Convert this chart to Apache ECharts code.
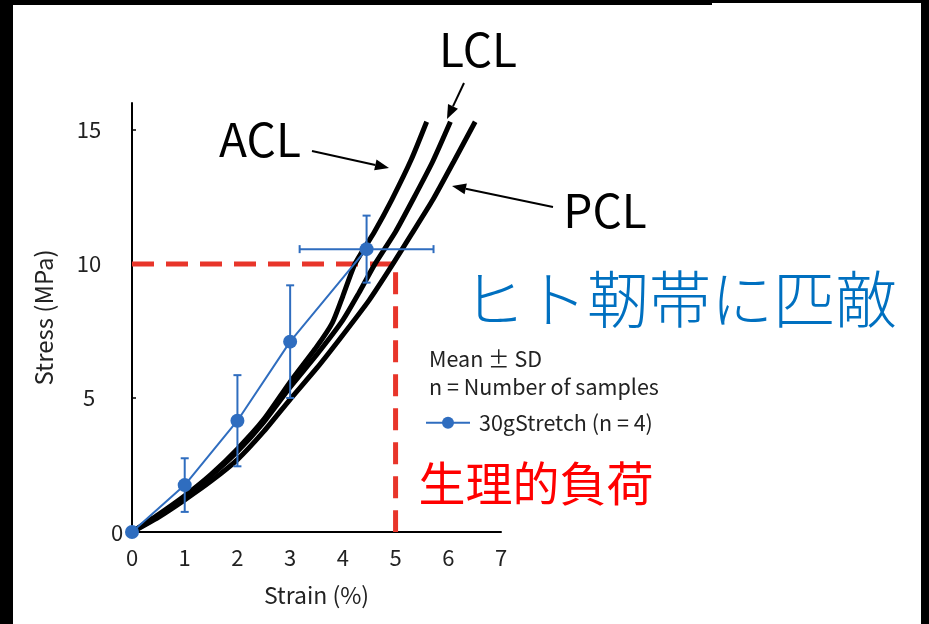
<!DOCTYPE html>
<html><head><meta charset="utf-8">
<script src="https://cdn.jsdelivr.net/npm/echarts@6/dist/echarts.min.js"></script>
<style>html,body{margin:0;padding:0;background:#fff;}#c{width:929px;height:624px;}</style>
</head><body><div id="c"></div>
<script>
// ---- data ----
const yLabelValues = [5, 10, 15];
const aclStrain = [0, 0.5, 1, 1.5, 2, 2.5, 3, 3.5, 3.8, 4.0, 4.23, 4.6, 4.93, 5.3, 5.59];
const aclStress = [0, 0.65, 1.35, 2.15, 3.1, 4.2, 5.6, 6.9, 7.8, 8.8, 10.0, 11.2, 12.4, 13.9, 15.3];
const lclStrain = [0, 0.5, 1, 1.5, 2, 2.5, 3, 3.5, 4, 4.3, 4.61, 5.0, 5.33, 5.7, 6.04];
const lclStress = [0, 0.6, 1.3, 2.1, 3.0, 4.1, 5.4, 6.6, 7.9, 8.9, 10.0, 11.2, 12.4, 13.8, 15.3];
const pclStrain = [0, 0.5, 1, 1.5, 2, 2.5, 3, 3.5, 4, 4.5, 4.95, 5.3, 5.71, 6.1, 6.51];
const pclStress = [0, 0.55, 1.2, 1.9, 2.7, 3.75, 4.95, 6.1, 7.35, 8.65, 10.0, 11.1, 12.4, 13.8, 15.3];
const blueStrain = [0, 1, 2, 3, 4.45];
const blueStress = [0, 1.75, 4.15, 7.1, 10.55];
const blueStressSD = [0, 1.0, 1.7, 2.1, 1.25];
const blueStrainSD = [0, 0, 0, 0, 1.27];
const refStrain = [0, 5, 5];
const refStress = [10, 10, 0];
const seriesName = '30gStretch (n = 4)';

const FONT = '"Noto Sans CJK JP", "Noto Sans", sans-serif';
const BLUE = '#2F6DBF';
const zip = (a, b) => a.map((v, i) => [v, b[i]]);

const chart = echarts.init(document.getElementById('c'), null, {renderer: 'canvas'});

function arrow(x1, y1, x2, y2) {
  const ang = Math.atan2(y2 - y1, x2 - x1);
  const L = 14, W = 5.5;
  const bx = x2 - L * Math.cos(ang), by = y2 - L * Math.sin(ang);
  const px = -Math.sin(ang) * W, py = Math.cos(ang) * W;
  return [
    {type: 'line', shape: {x1, y1, x2: bx, y2: by}, style: {stroke: '#000', lineWidth: 2}, z: 50},
    {type: 'polygon', shape: {points: [[x2, y2], [bx + px, by + py], [bx - px, by - py]]}, style: {fill: '#000'}, z: 50}
  ];
}

const option = {
  animation: false,
  backgroundColor: '#fff',
  grid: {left: 132, right: 428, top: 103, bottom: 92},
  xAxis: {
    type: 'value', min: 0, max: 7, interval: 1,
    name: 'Strain (%)', nameLocation: 'middle', nameGap: 52,
    nameTextStyle: {fontSize: 23, color: '#222', fontFamily: FONT},
    axisLine: {lineStyle: {color: '#000', width: 2}},
    axisTick: {show: false},
    splitLine: {show: false},
    axisLabel: {fontSize: 22, color: '#222', fontFamily: FONT, margin: 15}
  },
  yAxis: {
    type: 'value', min: 0, max: 16, interval: 5,
    name: 'Stress (MPa)', nameLocation: 'middle', nameGap: 76,
    nameTextStyle: {fontSize: 24, color: '#222', fontFamily: FONT},
    axisLine: {show: true, lineStyle: {color: '#000', width: 2}},
    axisTick: {show: true, inside: true, length: 4, lineStyle: {color: '#000', width: 1.5}, customValues: yLabelValues},
    splitLine: {show: false},
    axisLabel: {fontSize: 22, color: '#222', fontFamily: FONT, align: 'center', margin: 43, customValues: yLabelValues}
  },
  legend: {
    data: [seriesName], left: 420, top: 407,
    itemWidth: 44, itemHeight: 15,
    textStyle: {fontSize: 21.5, color: '#222', fontFamily: FONT, padding: [0, 0, 0, 4]}
  },
  series: [
    {type: 'line', name: 'ref', data: zip(refStrain, refStress), symbol: 'none',
     lineStyle: {color: '#E8352A', width: 5, type: [22, 12]}, z: 1, silent: true},
    {type: 'line', name: 'ACL', data: zip(aclStrain, aclStress), symbol: 'none', smooth: 0.2,
     lineStyle: {color: '#000', width: 5}, z: 2},
    {type: 'line', name: 'LCL', data: zip(lclStrain, lclStress), symbol: 'none', smooth: 0.2,
     lineStyle: {color: '#000', width: 5}, z: 2},
    {type: 'line', name: 'PCL', data: zip(pclStrain, pclStress), symbol: 'none', smooth: 0.2,
     lineStyle: {color: '#000', width: 5}, z: 2},
    {type: 'custom', name: 'err', z: 3,
     data: blueStrain.map((x, i) => [x, blueStress[i], blueStressSD[i], blueStrainSD[i]]),
     renderItem: function (params, api) {
       const x = api.value(0), y = api.value(1), sy = api.value(2), sx = api.value(3);
       const ch = [];
       const st = {stroke: BLUE, lineWidth: 2};
       if (sy > 0) {
         const t = api.coord([x, y + sy]), b = api.coord([x, y - sy]);
         ch.push({type: 'line', shape: {x1: t[0], y1: t[1], x2: b[0], y2: b[1]}, style: st});
         ch.push({type: 'line', shape: {x1: t[0] - 4, y1: t[1], x2: t[0] + 4, y2: t[1]}, style: st});
         ch.push({type: 'line', shape: {x1: b[0] - 4, y1: b[1], x2: b[0] + 4, y2: b[1]}, style: st});
       }
       if (sx > 0) {
         const l = api.coord([x - sx, y]), r = api.coord([x + sx, y]);
         ch.push({type: 'line', shape: {x1: l[0], y1: l[1], x2: r[0], y2: r[1]}, style: st});
         ch.push({type: 'line', shape: {x1: l[0], y1: l[1] - 4, x2: l[0], y2: l[1] + 4}, style: st});
         ch.push({type: 'line', shape: {x1: r[0], y1: r[1] - 4, x2: r[0], y2: r[1] + 4}, style: st});
       }
       return {type: 'group', children: ch};
     }},
    {type: 'line', name: seriesName, data: zip(blueStrain, blueStress), symbol: 'circle', symbolSize: 14,
     itemStyle: {color: BLUE}, lineStyle: {color: BLUE, width: 2}, z: 4}
  ],
  graphic: [
    {type: 'rect', shape: {x: 0, y: 0, width: 13, height: 624}, style: {fill: '#000'}, z: 100},
    {type: 'rect', shape: {x: 0, y: 0, width: 712, height: 5}, style: {fill: '#000'}, z: 100},
    {type: 'rect', shape: {x: 712, y: 0, width: 217, height: 3}, style: {fill: '#000'}, z: 100},
    {type: 'rect', shape: {x: 921, y: 0, width: 8, height: 624}, style: {fill: '#000'}, z: 100},
    {type: 'text', x: 117, y: 533, style: {text: '0', fontSize: 22, fill: '#222', fontFamily: FONT, align: 'center', verticalAlign: 'middle'}, z: 60},
    {type: 'text', x: 478, y: 50, style: {text: 'LCL', fontSize: 46, fill: '#000', fontFamily: FONT, align: 'center', verticalAlign: 'middle'}, z: 60},
    {type: 'text', x: 260, y: 140, style: {text: 'ACL', fontSize: 46, fill: '#000', fontFamily: FONT, align: 'center', verticalAlign: 'middle'}, z: 60},
    {type: 'text', x: 605, y: 211, style: {text: 'PCL', fontSize: 46, fill: '#000', fontFamily: FONT, align: 'center', verticalAlign: 'middle'}, z: 60},
    {type: 'text', x: 680, y: 299, style: {text: 'ヒト靭帯に匹敵', fontSize: 62, fontWeight: 300, fill: '#0070C0', fontFamily: FONT, align: 'center', verticalAlign: 'middle'}, z: 60},
    {type: 'text', x: 536, y: 483, style: {text: '生理的負荷', fontSize: 47, fill: '#FF0000', fontFamily: FONT, align: 'center', verticalAlign: 'middle'}, z: 60},
    {type: 'text', x: 429, y: 359, style: {text: 'Mean ± SD', fontSize: 21.5, fill: '#222', fontFamily: FONT, align: 'left', verticalAlign: 'middle'}, z: 60},
    {type: 'text', x: 429, y: 387, style: {text: 'n = Number of samples', fontSize: 21.5, fill: '#222', fontFamily: FONT, align: 'left', verticalAlign: 'middle'}, z: 60},
    ...arrow(464, 83, 447, 119),
    ...arrow(312, 151, 389, 168),
    ...arrow(553, 207, 452, 186)
  ]
};
chart.setOption(option);
</script></body></html>
